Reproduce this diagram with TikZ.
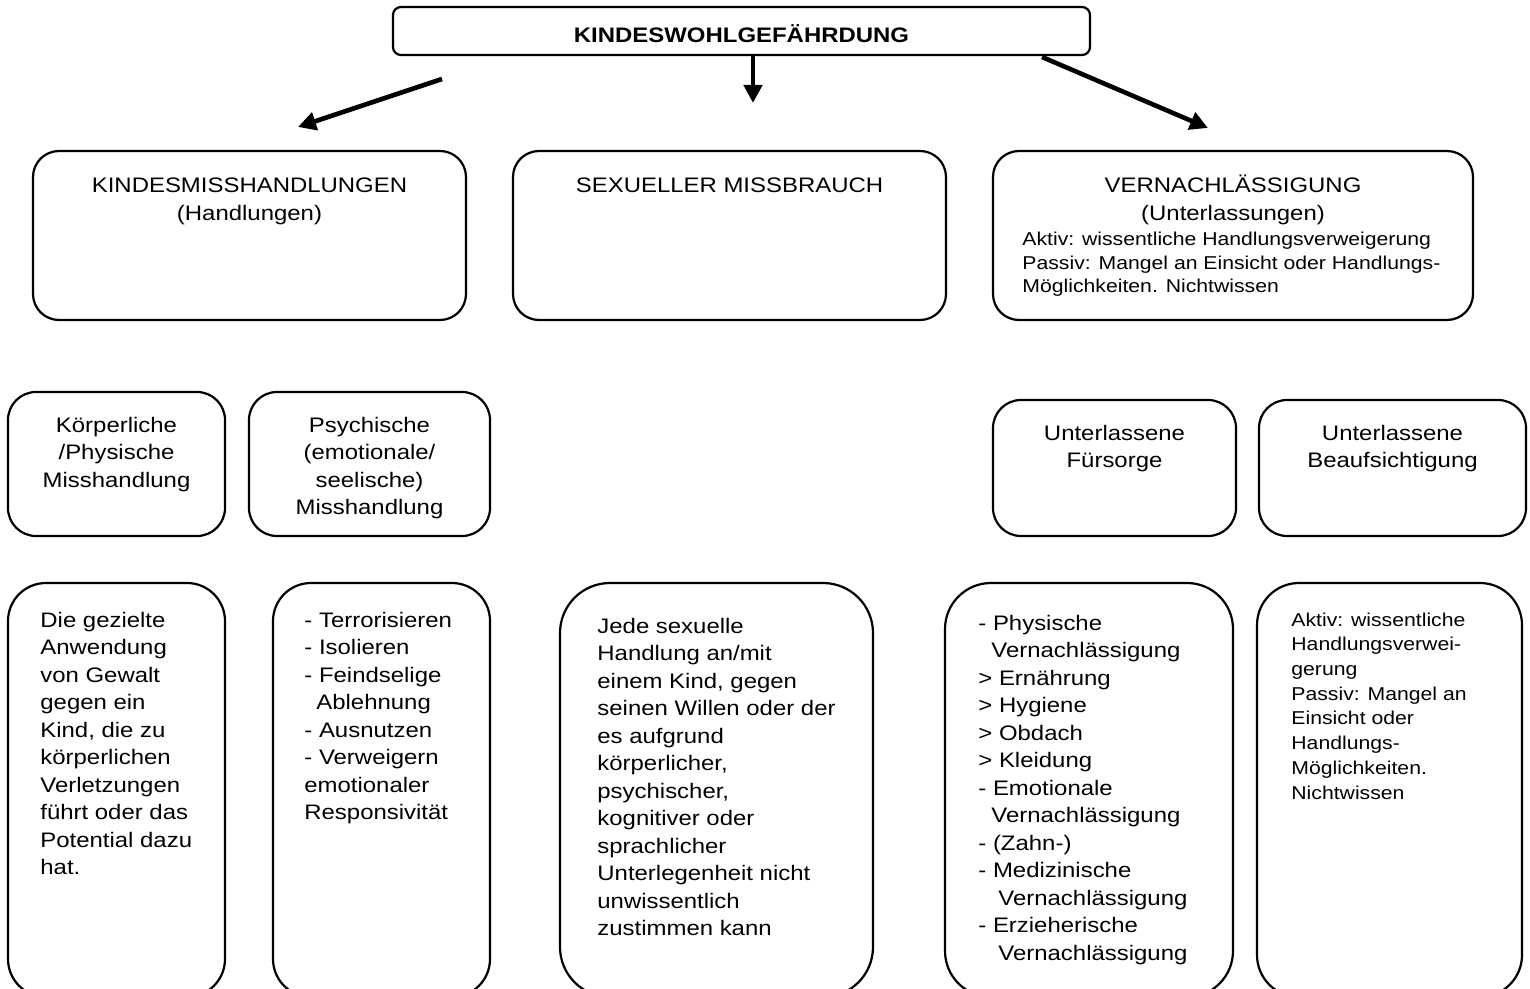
\documentclass[tikz,border=0pt]{standalone}
\usepackage{fontspec}
\setmainfont{Liberation Sans}[FakeStretch=1.14]
\usetikzlibrary{arrows.meta}

\newcommand{\kwtext}{\fontsize{10.5}{13.75}\selectfont}
\newcommand{\kwklein}{\fontsize{9.3}{12.35}\selectfont}

\tikzset{
	kasten/.style={draw, line width=1.1pt, rounded corners=#1, inner sep=0pt},
	kasten/.default=14pt,
	beschr/.style={inner sep=0pt, font=\kwtext},
	pfeil/.style={line width=2.3pt, -{Triangle[length=9pt,width=9pt]}}
}

\begin{document}
\begin{tikzpicture}[x=0.5pt, y=-0.5pt]
	\useasboundingbox (0,0) rectangle (1530,989);
	% oben
	\node[kasten=4pt, minimum width=348.5pt, minimum height=24pt] (wohl) at (741.5,31) {};
	\node[beschr, anchor=base, font=\kwtext\bfseries] (wohltxt) at (741.5,43) {KINDESWOHLGEFÄHRDUNG};
	\coordinate (lstart) at (442,79);
	\coordinate (lende) at (298,127);
	\coordinate (mende) at (753,103);
	\coordinate (rstart) at (1042,57);
	\coordinate (rende) at (1208,128);
	\draw[pfeil] (lstart) -- (lende);
	\draw[pfeil] (wohl.south -| mende) -- (mende);
	\draw[pfeil] (rstart) -- (rende);
	% erste Ebene (base = Grundlinie der letzten Zeile)
	\begin{scope}[every node/.append style={minimum height=84.5pt}]
		\node[kasten=13pt, minimum width=216.5pt] (kmh) at (249.5,235.5) {};
		\node[kasten=13pt, minimum width=216.5pt] (smb) at (729.5,235.5) {};
		\node[kasten=13pt, minimum width=240pt] (vnl) at (1233,235.5) {};
	\end{scope}
	\node[beschr, anchor=base, align=center] (kmhtxt) at (249.5,220.5) {KINDESMISSHANDLUNGEN\\(Handlungen)};
	\node[beschr, anchor=base] (smbtxt) at (729.5,193) {SEXUELLER MISSBRAUCH};
	\node[beschr, anchor=base, align=center] (vnltxt) at (1233,220.5) {VERNACHLÄSSIGUNG\\(Unterlassungen)};
	\node[beschr, anchor=base west, align=left, font=\fontsize{9.3}{11.75}\selectfont] (vnlart) at (1022,293)
		{Aktiv: wissentliche Handlungsverweigerung\\Passiv: Mangel an Einsicht oder Handlungs-\\Möglichkeiten. Nichtwissen};
	% zweite Ebene
	\node[kasten, minimum width=108.5pt, minimum height=72pt] (koerp) at (116.5,464) {};
	\node[kasten, minimum width=120.5pt, minimum height=72pt] (psych) at (369.5,464) {};
	\node[kasten, minimum width=121.5pt, minimum height=68pt] (fuers) at (1114.5,468) {};
	\node[kasten, minimum width=133.5pt, minimum height=68pt] (aufs) at (1392.5,468) {};
	\node[beschr, anchor=base, align=center] (koerptxt) at (116.5,487) {Körperliche\\/Physische\\Misshandlung};
	\node[beschr, anchor=base, align=center] (psychtxt) at (369.5,514.5) {Psychische\\(emotionale/\\seelische)\\Misshandlung};
	\node[beschr, anchor=base, align=center] (fuerstxt) at (1114.5,467.5) {Unterlassene\\Fürsorge};
	\node[beschr, anchor=base, align=center] (aufstxt) at (1392.5,467.5) {Unterlassene\\Beaufsichtigung};
	% dritte Ebene
	\begin{scope}[every node/.append style={minimum height=207pt}]
		\node[kasten=19pt, minimum width=108.5pt] (gewalt) at (116.5,790) {};
		\node[kasten=19pt, minimum width=108.5pt] (seele) at (381.5,790) {};
		\node[kasten=25pt, minimum width=156.5pt] (sex) at (716.5,790) {};
		\node[kasten=23pt, minimum width=144pt] (pflege) at (1089,790) {};
		\node[kasten=21pt, minimum width=132.5pt] (aufsicht) at (1389.5,790) {};
	\end{scope}
	\node[beschr, anchor=base west, align=left] (gewalttxt) at (40,874.5)
		{Die gezielte\\Anwendung\\von Gewalt\\gegen ein\\Kind, die zu\\körperlichen\\Verletzungen\\führt oder das\\Potential dazu\\hat.};
	\node[beschr, anchor=base west, align=left] (seeletxt) at (304,819.5)
		{- Terrorisieren\\- Isolieren\\- Feindselige\\\hspace*{6pt}Ablehnung\\- Ausnutzen\\- Verweigern\\emotionaler\\Responsivität};
	\node[beschr, anchor=base west, align=left] (sextxt) at (597,935.5)
		{Jede sexuelle\\Handlung an/mit\\einem Kind, gegen\\seinen Willen oder der\\es aufgrund\\körperlicher,\\psychischer,\\kognitiver oder\\sprachlicher\\Unterlegenheit nicht\\unwissentlich\\zustimmen kann};
	\node[beschr, anchor=base west, align=left] (pflegetxt) at (978,960)
		{- Physische\\\hspace*{6.5pt}Vernachlässigung\\> Ernährung\\> Hygiene\\> Obdach\\> Kleidung\\- Emotionale\\\hspace*{6.5pt}Vernachlässigung\\- (Zahn-)\\- Medizinische\\\hspace*{10pt}Vernachlässigung\\- Erzieherische\\\hspace*{10pt}Vernachlässigung};
	\node[beschr, anchor=base west, align=left, font=\kwklein] (aufsichttxt) at (1291,799)
		{Aktiv: wissentliche\\Handlungsverwei-\\gerung\\Passiv: Mangel an\\Einsicht oder\\Handlungs-\\Möglichkeiten.\\Nichtwissen};
\end{tikzpicture}
\end{document}
